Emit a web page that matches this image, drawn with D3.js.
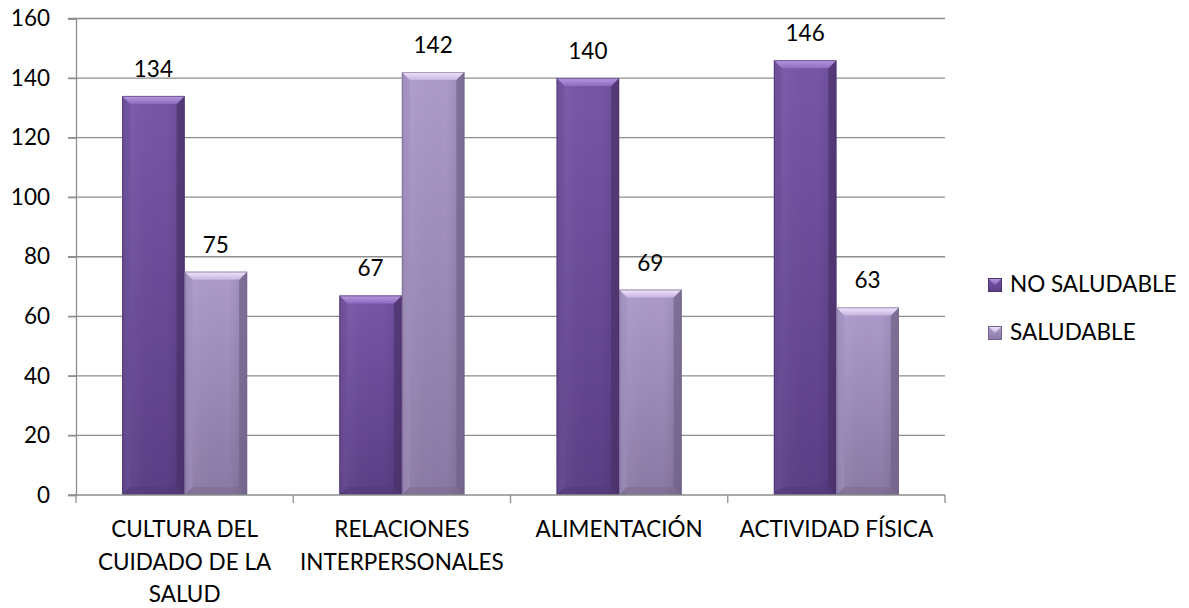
<!DOCTYPE html>
<html>
<head>
<meta charset="utf-8">
<script src="https://cdn.jsdelivr.net/npm/d3@7"></script>
<style>
  html, body { margin: 0; padding: 0; background: #fff; }
  svg { display: block; }
  text { font-family: Lato, "Open Sans", sans-serif; fill: #000; }
</style>
</head>
<body>
<svg id="chart" width="1189" height="608"></svg>
<script>
// Categories (each entry is a list of wrapped label lines)
const categories = [
  ["CULTURA DEL", "CUIDADO DE LA", "SALUD"],
  ["RELACIONES", "INTERPERSONALES"],
  ["ALIMENTACIÓN"],
  ["ACTIVIDAD FÍSICA"]
];
const seriesNames = ["NO SALUDABLE", "SALUDABLE"];
const noSaludable = [134, 67, 140, 146];
const saludable = [75, 142, 69, 63];
const yTicks = [0, 20, 40, 60, 80, 100, 120, 140, 160];

const svg = d3.select("#chart");
const plot = { left: 76, right: 945, top: 18.5, bottom: 495 };
const fontSize = 22.5;

const x = d3.scaleBand()
  .domain(d3.range(categories.length))
  .range([plot.left, plot.right])
  .paddingInner(0).paddingOuter(0);

const x1 = d3.scaleBand()
  .domain([0, 1])
  .range([0, x.bandwidth()])
  .paddingInner(0)
  .paddingOuter(0.738);

const y = d3.scaleLinear().domain([0, 160]).range([plot.bottom, plot.top]);

const defs = svg.append("defs");

// Colour sets for the two series: body tones, top bevel, side bevels
const palettes = [
  { top: "#7856a8", bottom: "#5b3e86", bevelTop: ["#b99be2", "#8d6bbe"], left: "#6c4e98", right: "#4a326a", base: "#4f3770" },
  { top: "#ad9bcb", bottom: "#8a79a5", bevelTop: ["#f2e8fc", "#c6b4e0"], left: "#a08fbd", right: "#716289", base: "#766889" }
];

palettes.forEach((p, i) => {
  const g = defs.append("linearGradient").attr("id", "body" + i)
    .attr("x1", 0).attr("y1", 0).attr("x2", 0).attr("y2", 1);
  g.append("stop").attr("offset", "0%").attr("stop-color", p.top);
  g.append("stop").attr("offset", "100%").attr("stop-color", p.bottom);

  const h = defs.append("linearGradient").attr("id", "shade" + i)
    .attr("x1", 0).attr("y1", 0).attr("x2", 1).attr("y2", 0);
  h.append("stop").attr("offset", "0%").attr("stop-color", "#000").attr("stop-opacity", 0.10);
  h.append("stop").attr("offset", "15%").attr("stop-color", "#fff").attr("stop-opacity", 0.04);
  h.append("stop").attr("offset", "70%").attr("stop-color", "#000").attr("stop-opacity", 0.0);
  h.append("stop").attr("offset", "100%").attr("stop-color", "#000").attr("stop-opacity", 0.12);

  const t = defs.append("linearGradient").attr("id", "bevel" + i)
    .attr("x1", 0).attr("y1", 0).attr("x2", 0).attr("y2", 1);
  t.append("stop").attr("offset", "0%").attr("stop-color", p.bevelTop[0]);
  t.append("stop").attr("offset", "100%").attr("stop-color", p.bevelTop[1]);
});

// Gridlines
svg.append("g")
  .selectAll("line")
  .data(yTicks.filter(d => d > 0))
  .join("line")
  .attr("x1", plot.left - 8).attr("x2", plot.right)
  .attr("y1", d => y(d)).attr("y2", d => y(d))
  .attr("stroke", "#8e8e8e").attr("stroke-width", 1.3);

// Y axis
const yAxis = svg.append("g")
  .attr("transform", `translate(${plot.left},0)`)
  .call(d3.axisLeft(y).tickValues(yTicks).tickSize(8).tickPadding(18).tickFormat(d3.format("d")));
yAxis.select(".domain").attr("stroke", "#8e8e8e").attr("stroke-width", 1.3);
yAxis.selectAll(".tick line").attr("stroke", "#8e8e8e").attr("stroke-width", 1.3);
yAxis.selectAll(".tick text")
  .style("font-family", "Lato, 'Open Sans', sans-serif")
  .style("font-size", fontSize + "px").attr("fill", "#000");

// Bars
const data = [];
categories.forEach((c, i) => {
  data.push({ cat: i, s: 0, v: noSaludable[i] });
  data.push({ cat: i, s: 1, v: saludable[i] });
});

const bars = svg.append("g").selectAll("g.bar").data(data).join("g").attr("class", "bar");
const bev = 8;

bars.each(function(d) {
  const g = d3.select(this);
  const x0 = x(d.cat) + x1(d.s);
  const w = x1.bandwidth();
  const xr = x0 + w;
  const y0 = y(d.v);
  const yb = y(0);
  const p = palettes[d.s];
  const b = Math.min(bev, (yb - y0) / 2);

  g.append("rect").attr("x", x0).attr("y", y0).attr("width", w).attr("height", yb - y0)
    .attr("fill", `url(#body${d.s})`);
  g.append("rect").attr("x", x0).attr("y", y0).attr("width", w).attr("height", yb - y0)
    .attr("fill", `url(#shade${d.s})`);
  // left bevel
  g.append("polygon")
    .attr("points", [[x0, y0], [x0 + b, y0 + b], [x0 + b, yb - b], [x0, yb]].join(" "))
    .attr("fill", p.left).attr("opacity", 0.55);
  // right bevel
  g.append("polygon")
    .attr("points", [[xr, y0], [xr - b, y0 + b], [xr - b, yb - b], [xr, yb]].join(" "))
    .attr("fill", p.right).attr("opacity", 0.7);
  // bottom bevel
  g.append("polygon")
    .attr("points", [[x0, yb], [x0 + b, yb - b], [xr - b, yb - b], [xr, yb]].join(" "))
    .attr("fill", p.base).attr("opacity", 0.45);
  // top bevel
  g.append("polygon")
    .attr("points", [[x0, y0], [xr, y0], [xr - b, y0 + b], [x0 + b, y0 + b]].join(" "))
    .attr("fill", `url(#bevel${d.s})`);
  // outline
  g.append("rect").attr("x", x0 + 0.5).attr("y", y0 + 0.5).attr("width", w - 1).attr("height", yb - y0 - 1)
    .attr("fill", "none").attr("stroke", p.right).attr("stroke-opacity", 0.6).attr("stroke-width", 1);
});

// Value labels
svg.append("g").selectAll("text").data(data).join("text")
  .attr("x", d => x(d.cat) + x1(d.s) + x1.bandwidth() / 2)
  .attr("y", d => y(d.v) - 19)
  .attr("text-anchor", "middle")
  .style("font-size", fontSize + "px")
  .text(d => d.v);

// X axis
const xAxisG = svg.append("g");
xAxisG.append("line")
  .attr("x1", plot.left - 8).attr("x2", plot.right)
  .attr("y1", y(0)).attr("y2", y(0))
  .attr("stroke", "#8e8e8e").attr("stroke-width", 1.3);
xAxisG.selectAll("line.tick")
  .data(d3.range(categories.length + 1))
  .join("line").attr("class", "tick")
  .attr("x1", i => plot.left + i * x.step()).attr("x2", i => plot.left + i * x.step())
  .attr("y1", y(0)).attr("y2", y(0) + 8)
  .attr("stroke", "#8e8e8e").attr("stroke-width", 1.3);

const lab = svg.append("g").selectAll("text").data(categories).join("text")
  .attr("text-anchor", "middle")
  .style("font-size", fontSize + "px");
lab.each(function(lines, i) {
  d3.select(this).selectAll("tspan").data(lines).join("tspan")
    .attr("x", x(i) + x.bandwidth() / 2)
    .attr("y", (l, k) => 537 + k * 32.5)
    .text(l => l);
});

// Legend
const legend = svg.append("g").attr("transform", "translate(988,278)");
seriesNames.forEach((name, i) => {
  const g = legend.append("g").attr("transform", `translate(0,${i * 48})`);
  const p = palettes[i];
  const s = 14;
  g.append("rect").attr("width", s).attr("height", s).attr("fill", `url(#body${i})`);
  g.append("polygon").attr("points", [[0, 0], [s, 0], [s / 2, s / 2]].join(" ")).attr("fill", `url(#bevel${i})`);
  g.append("rect").attr("x", 0.5).attr("y", 0.5).attr("width", s - 1).attr("height", s - 1)
    .attr("fill", "none").attr("stroke", p.right).attr("stroke-width", 1);
  g.append("text").attr("x", 22).attr("y", 14)
    .style("font-size", fontSize + "px").text(name);
});
</script>
</body>
</html>
